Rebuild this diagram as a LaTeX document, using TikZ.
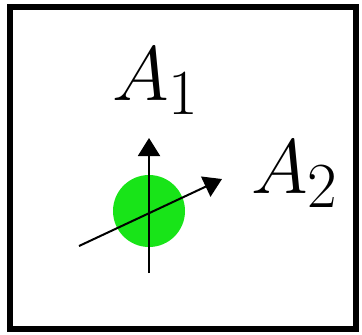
\documentclass[tikz,border=0pt]{standalone}
\usepackage{amsmath,amssymb}
\usepackage{graphicx}
\usepackage{tikz}
\usepackage{xcolor}
\usetikzlibrary{arrows.meta}

\definecolor{ballgreen}{RGB}{24,228,24}

\begin{document}
\begin{tikzpicture}[x=0.5pt,y=-0.5pt,
    axis/.style={line width=1pt,-{Triangle[length=9pt,width=11pt]}},
    lab/.style={anchor=base,inner sep=0pt,font=\Huge}]
  \useasboundingbox (0,0) rectangle (362,334);
  \draw[line width=3pt] (10,6.5) rectangle (356,328.5);
  \node[circle,fill=ballgreen,minimum size=36pt,inner sep=0pt] (ball) at (149,211) {};
  \coordinate (a1tail) at (149,273);
  \coordinate (a1tip) at (149,138);
  \coordinate (a2tail) at (79,246);
  \coordinate (a2tip) at (222,179);
  \draw[axis] (a1tail) -- (a1tip);
  \draw[axis] (a2tail) -- (a2tip);
  \node[lab] (lab1) at (156,100) {\scalebox{1.55}{$A_1$}};
  \node[lab] (lab2) at (295,193) {\scalebox{1.55}{$A_2$}};
\end{tikzpicture}
\end{document}
